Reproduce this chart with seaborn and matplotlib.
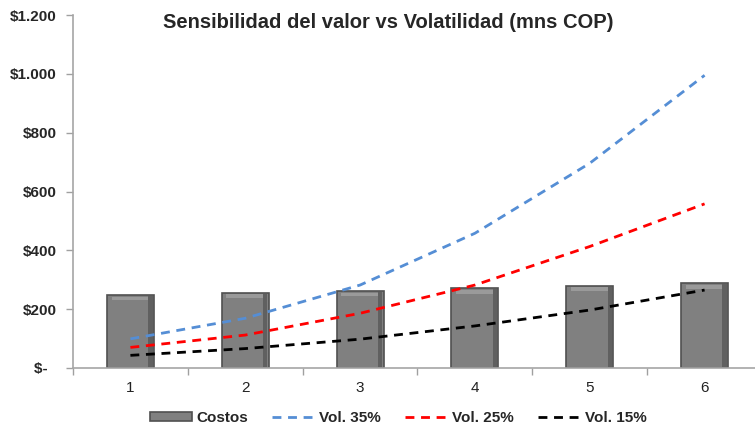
import matplotlib
matplotlib.use("Agg")
import matplotlib.pyplot as plt
import seaborn as sns
import pandas as pd
import numpy as np
from matplotlib.ticker import FixedLocator
from matplotlib.patches import Patch, Rectangle
from matplotlib.lines import Line2D

periodos = ["1", "2", "3", "4", "5", "6"]
costos = [248, 256, 262, 271, 280, 288]
vol35 = [99, 169, 282, 458, 696, 995]
vol25 = [70, 112, 186, 282, 413, 558]
vol15 = [43, 66, 98, 143, 197, 265]
series_names = ["Vol. 35%", "Vol. 25%", "Vol. 15%"]
series_colors = ["#558ED5", "#FF0000", "#000000"]
ytick_vals = [0, 200, 400, 600, 800, 1000, 1200]
ytick_labels = ["$-  ", "$200", "$400", "$600", "$800", "$1.000", "$1.200"]
title = "Sensibilidad del valor vs Volatilidad (mns COP)"

sns.set_theme(style="white")
plt.rcParams["font.family"] = ["Liberation Sans", "DejaVu Sans"]

fig = plt.figure(figsize=(7.55, 4.30), dpi=100)
ax = fig.add_axes([73 / 755, 62 / 430, 689 / 755, 353 / 430])

df_bar = pd.DataFrame({"periodo": periodos, "valor": costos})
sns.barplot(data=df_bar, x="periodo", y="valor", color="#808080", width=0.41,
            edgecolor="#505050", linewidth=1.2, saturation=1, ax=ax)
# bevel shading
for p in list(ax.patches):
    x0, w, h = p.get_x(), p.get_width(), p.get_height()
    ax.add_patch(Rectangle((x0 + w * 0.1, h - 18), w * 0.8, 12,
                           facecolor="#9A9A9A", edgecolor="none", zorder=p.get_zorder() + 0.1))
    ax.add_patch(Rectangle((x0 + w * 0.88, 3), w * 0.09, h - 6,
                           facecolor="#606060", edgecolor="none", zorder=p.get_zorder() + 0.1))

rows = []
for name, vals in zip(series_names, [vol35, vol25, vol15]):
    for i, v in enumerate(vals):
        rows.append({"pos": i, "valor": v, "serie": name})
df_lines = pd.DataFrame(rows)
sns.lineplot(data=df_lines, x="pos", y="valor", hue="serie", hue_order=series_names,
             palette=series_colors, linewidth=2.0, ax=ax, legend=False, zorder=5)
for line in ax.get_lines():
    line.set_dashes((3.2, 2.4))
if ax.get_legend() is not None:
    ax.get_legend().remove()

ax.set_xlim(-0.5, 5.5)
ax.set_ylim(0, 1200)
ax.set_yticks(ytick_vals)
ax.set_yticklabels(ytick_labels, fontweight="bold", fontsize=11)
ax.set_xticks(range(len(periodos)))
ax.set_xticklabels(periodos, fontsize=11, color="#222222")
ax.xaxis.set_minor_locator(FixedLocator(np.arange(-0.5, 6.0, 1.0)))
ax.tick_params(axis="x", which="major", length=0, pad=9)
ax.tick_params(axis="x", which="minor", length=5, color="#A0A0A0", width=1, direction="out", bottom=True)
ax.tick_params(axis="y", length=5, color="#A0A0A0", width=1, direction="out", left=True, pad=7)
ax.set_xlabel("")
ax.set_ylabel("")
for s in ["top", "right"]:
    ax.spines[s].set_visible(False)
for s in ["left", "bottom"]:
    ax.spines[s].set_color("#A6A6A6")
    ax.spines[s].set_linewidth(1.2)
ax.grid(False)

fig.text(388 / 755, 1 - 22 / 430, title, ha="center", va="center",
         fontsize=14.5, fontweight="bold")

handles = [Patch(facecolor="#808080", edgecolor="#505050", linewidth=1.2)]
for c in series_colors:
    handles.append(Line2D([0], [0], color=c, linewidth=2.0, dashes=(3.2, 2.4)))
labels = ["Costos"] + series_names
fig.legend(handles, labels, loc="center", bbox_to_anchor=(398 / 755, 1 - 418 / 430),
           ncol=4, frameon=False, handlelength=2.8, handleheight=0.6,
           columnspacing=1.6, handletextpad=0.25,
           prop={"weight": "bold", "size": 11})

fig.savefig("out.png", dpi=100)
